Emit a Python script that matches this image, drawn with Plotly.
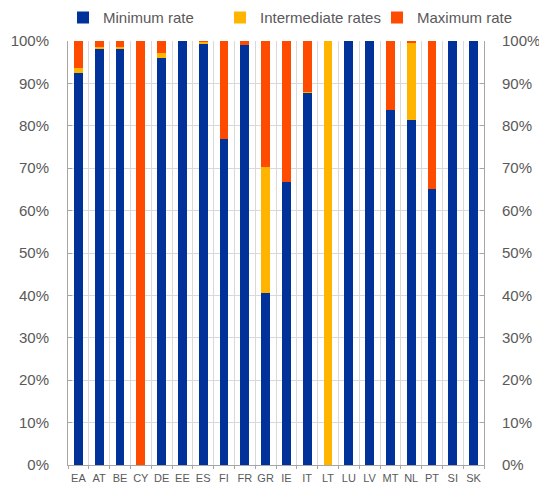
import plotly.graph_objects as go

countries = ["EA", "AT", "BE", "CY", "DE", "EE", "ES", "FI", "FR", "GR",
             "IE", "IT", "LT", "LU", "LV", "MT", "NL", "PT", "SI", "SK"]
minimum_rate = [92.4, 98.0, 98.3, 0.0, 95.9, 100.0, 99.5, 76.9, 99.1, 40.6,
                66.8, 87.8, 0.0, 100.0, 100.0, 83.7, 81.4, 65.2, 100.0, 100.0]
intermediate_rates = [1.3, 0.6, 0.2, 0.0, 1.3, 0.0, 0.3, 0.0, 0.0, 29.8,
                      0.0, 0.2, 100.0, 0.0, 0.0, 0.0, 18.2, 0.0, 0.0, 0.0]
maximum_rate = [6.3, 1.4, 1.5, 100.0, 2.8, 0.0, 0.2, 23.1, 0.9, 29.6,
                33.2, 12.0, 0.0, 0.0, 0.0, 16.3, 0.4, 34.8, 0.0, 0.0]
y_ticks = [0, 10, 20, 30, 40, 50, 60, 70, 80, 90, 100]
y_tick_labels = [f"{v}%" for v in y_ticks]

BLUE = "#003299"
YELLOW = "#FFB400"
ORANGE = "#FF4B00"
TEXT = "#595959"
GRID = "#D9D9D9"
AXIS = "#A6A6A6"

fig = go.Figure()
fig.add_trace(go.Bar(x=countries, y=minimum_rate, name="Minimum rate",
                     marker=dict(color=BLUE, line=dict(width=0))))
fig.add_trace(go.Bar(x=countries, y=intermediate_rates, name="Intermediate rates",
                     marker=dict(color=YELLOW, line=dict(width=0))))
fig.add_trace(go.Bar(x=countries, y=maximum_rate, name="Maximum rate",
                     marker=dict(color=ORANGE, line=dict(width=0))))
# invisible trace to anchor right axis
fig.add_trace(go.Scatter(x=countries, y=[None] * len(countries), yaxis="y2",
                         showlegend=False, hoverinfo="skip", mode="lines"))

axis_common = dict(range=[0, 100], tickvals=y_ticks, ticktext=y_tick_labels,
                   showline=True, linecolor=AXIS, linewidth=1,
                   ticks="inside", ticklen=4, tickcolor=AXIS,
                   tickfont=dict(size=15, color=TEXT), zeroline=False,
                   automargin=False)

fig.update_layout(
    width=539, height=476,
    margin=dict(l=60, r=63, t=33, b=19, autoexpand=False),
    barmode="stack", bargap=0.58,
    paper_bgcolor="white", plot_bgcolor="white",
    font=dict(family="Liberation Sans, Arial, sans-serif", color=TEXT),
    legend=dict(orientation="h", x=-0.012, xanchor="left", y=1.016, yanchor="bottom",
                font=dict(size=15, color=TEXT), itemwidth=30,
                entrywidth=112, entrywidthmode="pixels",
                traceorder="normal", bgcolor="rgba(0,0,0,0)"),
    xaxis=dict(type="category", range=[-0.5, 19.5], tickson="boundaries",
               showgrid=True, gridcolor=GRID, gridwidth=1,
               showline=True, linecolor=AXIS,
               ticks="outside", ticklen=3, tickcolor=AXIS,
               tickangle=0, automargin=False, ticklabelstandoff=3,
               tickfont=dict(size=11, color=TEXT)),
    yaxis=dict(showgrid=True, gridcolor=GRID, gridwidth=1,
               ticklabelstandoff=15, **axis_common),
    yaxis2=dict(overlaying="y", side="right", showgrid=False,
                ticklabelstandoff=14, **axis_common),
)

fig.write_html("out.html")
